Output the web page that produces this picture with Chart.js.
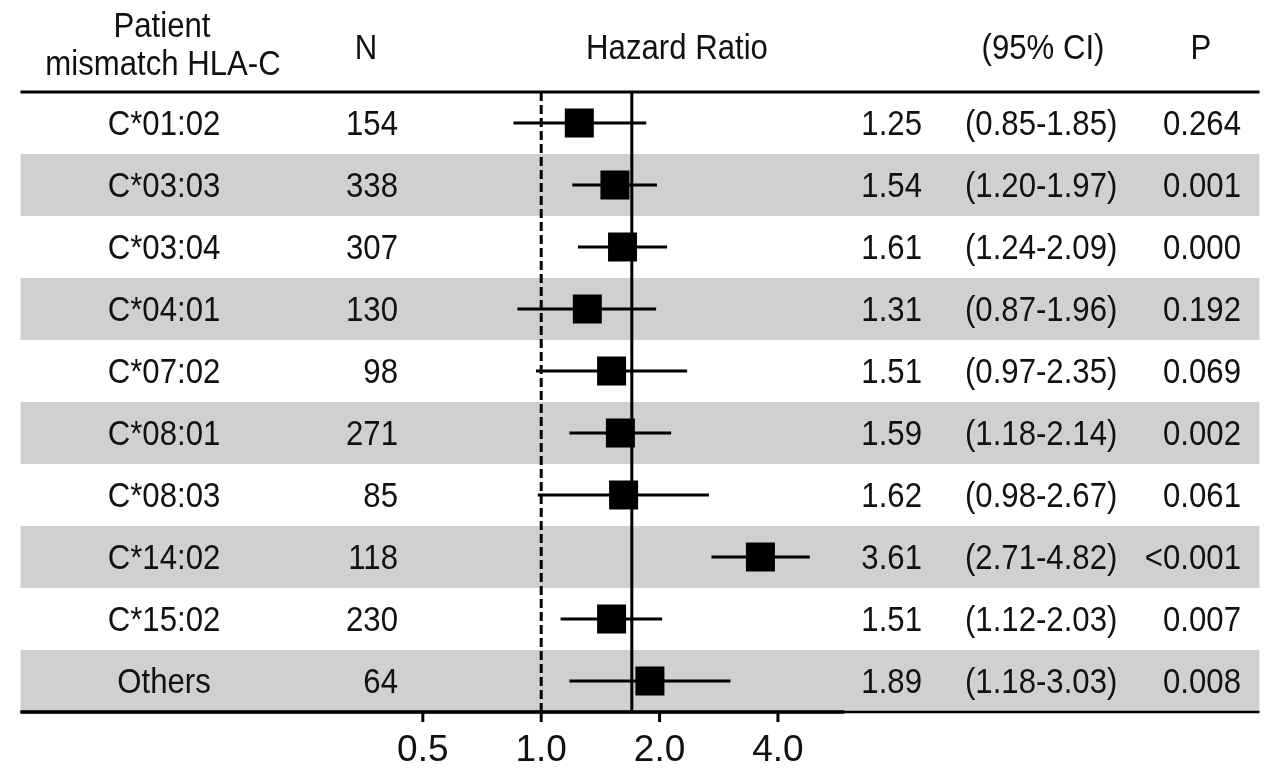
<!DOCTYPE html>
<html>
<head>
<meta charset="utf-8">
<script src="https://cdn.jsdelivr.net/npm/chart.js@4.4.1/dist/chart.umd.min.js"></script>
<style>
  html, body { margin: 0; padding: 0; background: #fff; }
  #wrap { width: 1280px; height: 774px; }
</style>
</head>
<body>
<div id="wrap"><canvas id="forest"></canvas></div>
<script>
// table rows, top to bottom
const alleles = ['C*01:02', 'C*03:03', 'C*03:04', 'C*04:01', 'C*07:02',
                 'C*08:01', 'C*08:03', 'C*14:02', 'C*15:02', 'Others'];
const counts  = [154, 338, 307, 130, 98, 271, 85, 118, 230, 64];
const hazard  = [1.25, 1.54, 1.61, 1.31, 1.51, 1.59, 1.62, 3.61, 1.51, 1.89];
const ciLow   = [0.85, 1.20, 1.24, 0.87, 0.97, 1.18, 0.98, 2.71, 1.12, 1.18];
const ciHigh  = [1.85, 1.97, 2.09, 1.96, 2.35, 2.14, 2.67, 4.82, 2.03, 3.03];
const pValues = ['0.264', '0.001', '0.000', '0.192', '0.069', '0.002', '0.061', '<0.001', '0.007', '0.008'];

const xTicks    = [0.5, 1.0, 2.0, 4.0];
const nullHR    = 1.0;   // dashed line
const overallHR = 1.70;  // solid line
const axisEnd   = 5.9;   // where the drawn axis line stops

const FONT = "'Liberation Sans', Arial, sans-serif";
const TEXT_SX = 0.89;    // the original lettering is a bit narrow
const fmt = v => v.toFixed(2);

// whiskers, one small line per row
const whiskers = alleles.map((a, i) => ({
    data: [{ x: ciLow[i], y: i }, { x: ciHigh[i], y: i }],
    showLine: true,
    borderColor: '#000',
    borderWidth: 3,
    pointRadius: 0
}));

const refLine = (x, dash) => ({
    data: [{ x: x, y: -0.5 }, { x: x, y: alleles.length - 0.5 }],
    showLine: true,
    borderColor: '#000',
    borderWidth: 3,
    borderDash: dash,
    pointRadius: 0
});

function text(ctx, str, x, y, align) {
    ctx.save();
    ctx.translate(x, y);
    ctx.scale(TEXT_SX, 1);
    ctx.textAlign = align;
    ctx.fillText(str, 0, 0);
    ctx.restore();
}

// shading + table text drawn around the plot
const tablePlugin = {
    id: 'forestTable',
    beforeDatasetsDraw(chart) {
        const { ctx, chartArea: a, scales: { y } } = chart;
        ctx.save();
        ctx.fillStyle = '#d0d0d0';
        alleles.forEach((_, i) => {
            if (i % 2 === 1) {
                const t = y.getPixelForValue(i - 0.5);
                const b = y.getPixelForValue(i + 0.5);
                ctx.fillRect(a.left, t, a.right - a.left, b - t);
            }
        });
        ctx.restore();
    },
    afterDraw(chart) {
        const { ctx, chartArea: a, scales: { x, y } } = chart;
        ctx.save();
        ctx.fillStyle = '#111';
        ctx.font = '35px ' + FONT;
        ctx.textBaseline = 'alphabetic';

        // header
        text(ctx, 'Patient', 162, 37, 'center');
        text(ctx, 'mismatch HLA-C', 163, 75, 'center');
        text(ctx, 'N', 366, 59, 'center');
        text(ctx, 'Hazard Ratio', 677, 59, 'center');
        text(ctx, '(95% CI)', 1043, 59, 'center');
        text(ctx, 'P', 1201, 59, 'center');

        // rows
        alleles.forEach((name, i) => {
            const by = y.getPixelForValue(i) + 12;
            text(ctx, name, 164, by, 'center');
            text(ctx, String(counts[i]), 398, by, 'right');
            text(ctx, fmt(hazard[i]), 922, by, 'right');
            text(ctx, '(' + fmt(ciLow[i]) + '-' + fmt(ciHigh[i]) + ')', 965, by, 'left');
            text(ctx, pValues[i], 1241, by, 'right');
        });

        // rules
        ctx.strokeStyle = '#000';
        ctx.lineWidth = 3;
        ctx.beginPath();
        ctx.moveTo(a.left, a.top);
        ctx.lineTo(a.right, a.top);
        ctx.stroke();
        ctx.lineWidth = 2.5;
        ctx.beginPath();
        ctx.moveTo(a.left, a.bottom);
        ctx.lineTo(a.right, a.bottom);
        ctx.stroke();
        ctx.lineWidth = 3.5;
        ctx.beginPath();
        ctx.moveTo(a.left, a.bottom);
        ctx.lineTo(x.getPixelForValue(axisEnd), a.bottom);
        ctx.stroke();

        // tick marks under the axis
        ctx.lineWidth = 3;
        xTicks.forEach(v => {
            const px = x.getPixelForValue(v);
            ctx.beginPath();
            ctx.moveTo(px, a.bottom);
            ctx.lineTo(px, a.bottom + 10);
            ctx.stroke();
        });
        ctx.restore();
    }
};

const ctx = document.getElementById('forest').getContext('2d');
const forestChart = new Chart(ctx, {
    type: 'scatter',
    data: {
        datasets: [
            {
                data: hazard.map((h, i) => ({ x: h, y: i })),
                pointStyle: 'rect',
                pointRadius: 20.5,
                pointHoverRadius: 20.5,
                backgroundColor: '#000',
                borderWidth: 0
            },
            ...whiskers,
            refLine(overallHR, []),
            refLine(nullHR, [9, 4])
        ]
    },
    options: {
        responsive: true,
        maintainAspectRatio: false,
        animation: false,
        layout: { padding: { top: 92, left: 20, right: 10, bottom: 0.6 } },
        scales: {
            x: {
                type: 'logarithmic',
                min: 0.0474,
                max: 67.1,
                afterBuildTicks: s => { s.ticks = xTicks.map(v => ({ value: v })); },
                ticks: {
                    autoSkip: false,
                    maxRotation: 0,
                    padding: 0,
                    color: '#111',
                    font: { family: FONT, size: 37 },
                    callback: v => Number(v).toFixed(1)
                },
                grid: {
                    drawOnChartArea: false,
                    drawTicks: true,
                    tickLength: 17,
                    color: 'rgba(0,0,0,0)'
                },
                border: { display: false }
            },
            y: {
                type: 'linear',
                display: false,
                min: -0.5,
                max: alleles.length - 0.5,
                reverse: true
            }
        },
        plugins: {
            legend: { display: false },
            tooltip: { enabled: false }
        }
    },
    plugins: [tablePlugin]
});
</script>
</body>
</html>
